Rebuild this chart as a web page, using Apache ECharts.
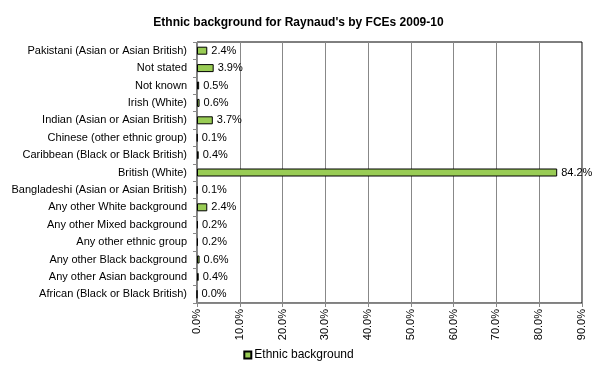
<!DOCTYPE html>
<html>
<head>
<meta charset="utf-8">
<script src="https://cdn.jsdelivr.net/npm/echarts@6/dist/echarts.min.js"></script>
<style>
  html, body { margin: 0; padding: 0; background: #fff; }
  #chart { width: 597px; height: 377px; }
</style>
</head>
<body>
<div id="chart"></div>
<script>
    // categories listed top to bottom as in the picture
    var categories = [
        'Pakistani (Asian or Asian British)',
        'Not stated',
        'Not known',
        'Irish (White)',
        'Indian (Asian or Asian British)',
        'Chinese (other ethnic group)',
        'Caribbean (Black or Black British)',
        'British (White)',
        'Bangladeshi (Asian or Asian British)',
        'Any other White background',
        'Any other Mixed background',
        'Any other ethnic group',
        'Any other Black background',
        'Any other Asian background',
        'African (Black or Black British)'
    ];
    var shares = [2.4, 3.9, 0.5, 0.6, 3.7, 0.1, 0.4, 84.2, 0.1, 2.4, 0.2, 0.2, 0.6, 0.4, 0.0];
    var seriesName = 'Ethnic background';

    var font = 'Arial, "Liberation Sans", sans-serif';

    var chart = echarts.init(document.getElementById('chart'));
    chart.setOption({
        animation: false,
        textStyle: { fontFamily: font },
        title: {
            text: "Ethnic background for Raynaud's by FCEs 2009-10",
            left: 'center',
            top: 12,
            textStyle: { fontSize: 12, fontWeight: 'bold', color: '#000', fontFamily: font }
        },
        legend: {
            data: [{ name: seriesName, icon: 'rect' }],
            bottom: 11,
            left: 'center',
            itemWidth: 7,
            itemHeight: 7,
            itemGap: 4,
            textStyle: { fontSize: 12, color: '#000', fontFamily: font, padding: [0, 0, 0, -2] }
        },
        grid: {
            left: 197,
            right: 15,
            top: 42,
            bottom: 74,
            show: true,
            borderColor: '#000',
            borderWidth: 1,
            containLabel: false
        },
        xAxis: {
            type: 'value',
            min: 0,
            max: 90,
            interval: 10,
            axisLine: { show: true, lineStyle: { color: '#888' } },
            axisTick: { show: true, length: 4, lineStyle: { color: '#888' } },
            splitLine: { show: true, lineStyle: { color: '#888' } },
            axisLabel: {
                rotate: 90,
                color: '#000',
                fontSize: 11,
                margin: 6,
                formatter: function (v) { return v.toFixed(1) + '%'; }
            }
        },
        yAxis: {
            type: 'category',
            data: categories,
            inverse: true,
            axisLine: { show: true, lineStyle: { color: '#888' } },
            axisTick: { show: true, length: 4, lineStyle: { color: '#888' } },
            axisLabel: { color: '#000', fontSize: 11, margin: 10 }
        },
        series: [{
            name: seriesName,
            type: 'bar',
            data: shares,
            barWidth: 8,
            itemStyle: { color: '#99cc55', borderColor: '#000', borderWidth: 1 },
            label: {
                show: true,
                position: 'right',
                distance: 4,
                color: '#000',
                fontSize: 11,
                formatter: function (p) { return p.value.toFixed(1) + '%'; }
            }
        }]
    });
</script>
</body>
</html>
